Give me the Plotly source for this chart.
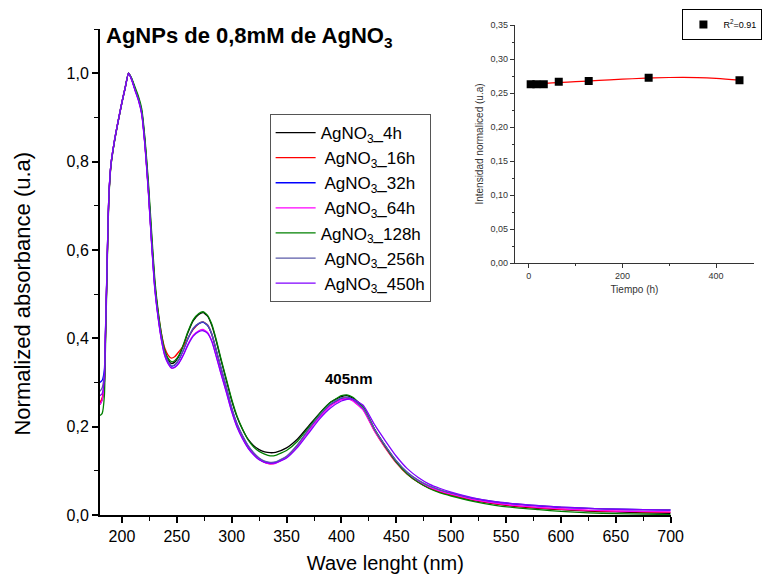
import plotly.graph_objects as go

# ---------------- data ----------------
WL = [180,182,184,185,186,187,188,190,193,196,200,203,206,209,212,215,218,221,224,227,230,
      233,236,239,242,245,248,252,256,260,265,270,274,278,282,286,290,295,300,305,310,315,
      320,325,330,335,340,350,360,370,380,390,400,405,410,420,430,440,450,460,470,480,490,
      500,520,540,560,580,600,625,650,675,700]

A_4h = [0.250,0.262,0.300,0.400,0.510,0.620,0.715,0.792,0.843,0.884,0.934,0.968,1.000,0.986,0.964,0.944,0.914,0.845,0.748,0.630,0.522,
        0.455,0.405,0.370,0.352,0.343,0.346,0.360,0.384,0.412,0.440,0.454,0.458,0.450,0.428,0.393,0.353,0.306,0.259,0.221,0.193,0.171,
        0.157,0.148,0.143,0.141,0.142,0.152,0.172,0.201,0.230,0.255,0.268,0.270,0.265,0.243,0.195,0.156,0.121,0.094,0.075,0.062,0.052,
        0.045,0.033,0.025,0.019,0.015,0.012,0.009,0.007,0.005,0.004]

A_16h = [0.255,0.265,0.305,0.410,0.515,0.625,0.718,0.794,0.845,0.885,0.935,0.968,1.000,0.985,0.962,0.941,0.910,0.838,0.738,0.622,0.520,
         0.458,0.410,0.378,0.362,0.355,0.358,0.370,0.382,0.400,0.420,0.433,0.437,0.430,0.408,0.371,0.333,0.287,0.239,0.202,0.175,0.153,
         0.138,0.126,0.119,0.116,0.118,0.131,0.157,0.192,0.223,0.249,0.263,0.264,0.260,0.238,0.191,0.152,0.118,0.092,0.074,0.061,0.052,
         0.045,0.034,0.026,0.020,0.016,0.013,0.010,0.008,0.007,0.006]

A_32h = [0.300,0.305,0.330,0.420,0.520,0.630,0.720,0.795,0.845,0.885,0.935,0.968,1.000,0.985,0.963,0.942,0.912,0.840,0.740,0.620,0.515,
         0.450,0.400,0.365,0.347,0.337,0.339,0.352,0.373,0.398,0.422,0.433,0.436,0.429,0.408,0.372,0.335,0.290,0.242,0.205,0.178,0.156,
         0.140,0.128,0.121,0.118,0.119,0.132,0.158,0.193,0.224,0.250,0.264,0.266,0.262,0.240,0.194,0.156,0.122,0.096,0.078,0.065,0.056,
         0.049,0.037,0.029,0.024,0.020,0.017,0.015,0.013,0.012,0.011]

A_64h = [0.250,0.260,0.300,0.405,0.512,0.622,0.716,0.793,0.844,0.884,0.934,0.967,1.000,0.984,0.961,0.940,0.909,0.836,0.735,0.616,0.511,
         0.446,0.396,0.361,0.343,0.333,0.334,0.345,0.363,0.386,0.407,0.417,0.420,0.413,0.393,0.359,0.323,0.280,0.235,0.199,0.173,0.152,
         0.137,0.126,0.119,0.116,0.117,0.130,0.156,0.190,0.221,0.247,0.261,0.263,0.259,0.237,0.191,0.153,0.119,0.094,0.076,0.063,0.054,
         0.047,0.035,0.027,0.021,0.017,0.014,0.011,0.009,0.008,0.007]

A_128h = [0.225,0.230,0.270,0.380,0.495,0.610,0.708,0.790,0.842,0.883,0.933,0.967,1.000,0.988,0.968,0.948,0.920,0.852,0.757,0.642,0.532,
          0.462,0.410,0.373,0.355,0.347,0.349,0.362,0.386,0.414,0.442,0.456,0.460,0.452,0.431,0.396,0.356,0.309,0.262,0.223,0.194,0.170,
          0.154,0.144,0.138,0.134,0.135,0.146,0.167,0.198,0.229,0.255,0.270,0.272,0.267,0.244,0.195,0.155,0.120,0.093,0.074,0.060,0.050,
          0.043,0.031,0.022,0.016,0.012,0.008,0.005,0.003,0.002,0.001]

A_256h = [0.280,0.288,0.320,0.415,0.518,0.628,0.719,0.795,0.845,0.885,0.935,0.968,1.000,0.985,0.963,0.942,0.911,0.839,0.739,0.620,0.515,
          0.450,0.401,0.366,0.348,0.338,0.340,0.353,0.374,0.399,0.423,0.434,0.437,0.430,0.409,0.373,0.336,0.291,0.243,0.206,0.179,0.157,
          0.141,0.129,0.122,0.119,0.120,0.133,0.159,0.194,0.225,0.251,0.265,0.266,0.262,0.241,0.195,0.157,0.123,0.097,0.079,0.066,0.057,
          0.050,0.038,0.030,0.025,0.021,0.018,0.015,0.013,0.012,0.012]

A_450h = [0.270,0.275,0.310,0.410,0.515,0.626,0.718,0.794,0.844,0.884,0.934,0.967,1.000,0.984,0.960,0.938,0.907,0.834,0.733,0.614,0.510,
          0.446,0.396,0.361,0.343,0.333,0.334,0.344,0.362,0.384,0.405,0.415,0.417,0.411,0.392,0.358,0.322,0.279,0.234,0.198,0.172,0.151,
          0.136,0.125,0.119,0.117,0.118,0.129,0.153,0.185,0.217,0.242,0.258,0.262,0.262,0.248,0.205,0.168,0.133,0.105,0.085,0.070,0.060,
          0.052,0.039,0.030,0.025,0.021,0.018,0.015,0.013,0.012,0.011]

SERIES_NAMES = ["AgNO<sub>3</sub>_4h", " AgNO<sub>3</sub>_16h", " AgNO<sub>3</sub>_32h", " AgNO<sub>3</sub>_64h",
                "AgNO<sub>3</sub>_128h", " AgNO<sub>3</sub>_256h", " AgNO<sub>3</sub>_450h"]
SERIES_VALUES = [A_4h, A_16h, A_32h, A_64h, A_128h, A_256h, A_450h]
SERIES_COLORS = ["#000000", "#ff0000", "#0000ff", "#ff00ff", "#008000", "#5b5ba8", "#8000ff"]

# inset data
TIME_H = [4, 16, 32, 64, 128, 256, 450]
INTENSITY = [0.263, 0.263, 0.263, 0.2667, 0.2677, 0.2726, 0.2688]
FIT_T = [4, 50, 100, 150, 200, 250, 300, 330, 360, 400, 450]
FIT_V = [0.2628, 0.2648, 0.2667, 0.2685, 0.2703, 0.2718, 0.2728, 0.2730, 0.2727, 0.2715, 0.2689]

# ---------------- figure ----------------
fig = go.Figure()
for name, vals, col in zip(SERIES_NAMES, SERIES_VALUES, SERIES_COLORS):
    fig.add_trace(go.Scatter(x=WL, y=vals, mode="lines", name=name,
                             line=dict(color=col, width=1.3, shape="spline", smoothing=0.5),
                             xaxis="x", yaxis="y", legend="legend"))

fig.add_trace(go.Scatter(x=FIT_T, y=FIT_V, mode="lines", showlegend=False,
                         line=dict(color="#ff0000", width=1.2, shape="spline"),
                         xaxis="x2", yaxis="y2"))
fig.add_trace(go.Scatter(x=TIME_H, y=INTENSITY, mode="markers", name="R<sup>2</sup>=0.91",
                         marker=dict(symbol="square", size=8, color="#000000"),
                         xaxis="x2", yaxis="y2", legend="legend2"))

W, H = 767, 582
ML, MR, MT, MB = 100, 0, 25, 67
pw, ph = W - ML - MR, H - MT - MB

def px(x):
    return (x - ML) / pw

def py(y):
    return (H - MB - y) / ph

axis_font = dict(family="Liberation Sans, Arial", size=16, color="#000000")

fig.update_layout(
    width=W, height=H,
    margin=dict(l=ML, r=MR, t=MT, b=MB),
    paper_bgcolor="white", plot_bgcolor="white",
    separators=", ",
    font=dict(family="Liberation Sans, Arial", color="#000000"),
    xaxis=dict(domain=[0, px(682)], range=[180, 700], dtick=50, tick0=0,
               showgrid=False, zeroline=False, showline=True, linecolor="black", linewidth=2,
               ticks="outside", ticklen=6, tickwidth=1.5, tickcolor="black",
               minor=dict(dtick=25, ticks="outside", ticklen=4, tickwidth=1.2, tickcolor="black"),
               tickfont=axis_font,
               title=dict(text="Wave lenght (nm)", font=dict(size=20), standoff=12)),
    yaxis=dict(domain=[0, py(29)], range=[0, 1.1], dtick=0.2, tickformat=".1f",
               showgrid=False, zeroline=False, showline=True, linecolor="black", linewidth=2,
               ticks="outside", ticklen=6, tickwidth=1.5, tickcolor="black",
               minor=dict(dtick=0.1, ticks="outside", ticklen=4, tickwidth=1.2, tickcolor="black"),
               tickfont=axis_font),
    xaxis2=dict(domain=[px(523), 1.0], anchor="y2", range=[-30, 481],
                tickvals=[0, 200, 400], showgrid=False, zeroline=False,
                showline=True, linecolor="#333333", linewidth=1,
                ticks="outside", ticklen=4, tickwidth=1, tickcolor="#333333",
                minor=dict(dtick=100, ticks="outside", ticklen=2, tickwidth=1, tickcolor="#333333"),
                tickfont=dict(size=9, color="#333333"),
                title=dict(text="Tiempo (h)", font=dict(size=10, color="#333333"), standoff=6)),
    yaxis2=dict(domain=[py(263), py(25)], anchor="x2", range=[0, 0.35], dtick=0.05,
                tickformat=".2f", showgrid=False, zeroline=False,
                showline=True, linecolor="#333333", linewidth=1,
                ticks="outside", ticklen=4, tickwidth=1, tickcolor="#333333",
                minor=dict(dtick=0.025, ticks="outside", ticklen=2, tickwidth=1, tickcolor="#333333"),
                tickfont=dict(size=9, color="#333333"),
                title=dict(text="Intensidad normaliced (u.a)", font=dict(size=10, color="#333333"), standoff=4)),
    legend=dict(x=px(273), y=py(114), xanchor="left", yanchor="top",
                bordercolor="#555555", borderwidth=1, bgcolor="white",
                font=dict(size=17, color="#000000"), tracegroupgap=0,
                itemwidth=40),
    legend2=dict(x=px(694), y=py(9), xanchor="left", yanchor="top",
                 bordercolor="#000000", borderwidth=1, bgcolor="white",
                 font=dict(size=9, color="#000000")),
    annotations=[
        dict(text="<b>AgNPs de 0,8mM de AgNO<sub>3</sub></b>", xref="paper", yref="paper",
             x=px(104), y=py(37), xanchor="left", yanchor="middle", showarrow=False,
             font=dict(size=22, color="#000000")),
        dict(text="<b>405nm</b>", xref="x", yref="y", x=407, y=0.31,
             xanchor="center", yanchor="middle", showarrow=False,
             font=dict(size=15, color="#000000")),
        dict(text="Normalized absorbance (u.a)", xref="paper", yref="paper",
             x=px(21), y=py(294), xanchor="center", yanchor="middle", showarrow=False,
             textangle=-90, font=dict(size=22, color="#000000")),
    ],
)

fig.write_html("out.html")
